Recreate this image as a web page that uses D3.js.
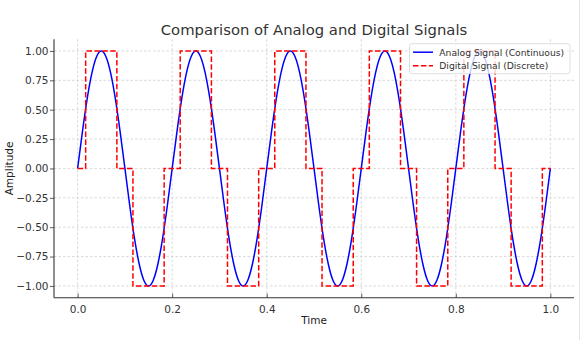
<!DOCTYPE html>
<html>
<head>
<meta charset="utf-8">
<script src="https://cdn.jsdelivr.net/npm/d3@7"></script>
<style>
  html, body { margin: 0; padding: 0; background: #fff; }
  svg { display: block; }
  text { font-family: "DejaVu Sans", sans-serif; }
</style>
</head>
<body>
<div id="chart"></div>
<script>
// ---- data ----
const title = "Comparison of Analog and Digital Signals";
const xLabel = "Time";
const yLabel = "Amplitude";
const seriesNames = ["Analog Signal (Continuous)", "Digital Signal (Discrete)"];
const xTicks = [0.0, 0.2, 0.4, 0.6, 0.8, 1.0];
const yTicks = [-1.0, -0.75, -0.5, -0.25, 0.0, 0.25, 0.5, 0.75, 1.0];

// analog samples, one every 0.01 time units from 0 to 1
const analogStep = 0.01;
const analogValues = [
  0, 0.309, 0.588, 0.809, 0.951, 1, 0.951, 0.809, 0.588, 0.309,
  0, -0.309, -0.588, -0.809, -0.951, -1, -0.951, -0.809, -0.588, -0.309,
  0, 0.309, 0.588, 0.809, 0.951, 1, 0.951, 0.809, 0.588, 0.309,
  0, -0.309, -0.588, -0.809, -0.951, -1, -0.951, -0.809, -0.588, -0.309,
  0, 0.309, 0.588, 0.809, 0.951, 1, 0.951, 0.809, 0.588, 0.309,
  0, -0.309, -0.588, -0.809, -0.951, -1, -0.951, -0.809, -0.588, -0.309,
  0, 0.309, 0.588, 0.809, 0.951, 1, 0.951, 0.809, 0.588, 0.309,
  0, -0.309, -0.588, -0.809, -0.951, -1, -0.951, -0.809, -0.588, -0.309,
  0, 0.309, 0.588, 0.809, 0.951, 1, 0.951, 0.809, 0.588, 0.309,
  0, -0.309, -0.588, -0.809, -0.951, -1, -0.951, -0.809, -0.588, -0.309,
  0
];

// digital signal: level changes (time where the new level starts, level)
const digitalTimes  = [0, 0.017, 0.083, 0.117, 0.183, 0.217, 0.283, 0.317, 0.383, 0.417, 0.483,
                       0.517, 0.583, 0.617, 0.683, 0.717, 0.783, 0.817, 0.883, 0.917, 0.983, 1.0];
const digitalLevels = [0, 1, 0, -1, 0, 1, 0, -1, 0, 1, 0,
                       -1, 0, 1, 0, -1, 0, 1, 0, -1, 0, 0];

// ---- drawing ----
const W = 582, H = 340;
const plot = { left: 54, right: 574, top: 39.2, bottom: 297.7 };

const svg = d3.select("#chart").append("svg")
  .attr("width", W).attr("height", H);

const x = d3.scaleLinear().domain([-0.05, 1.05]).range([plot.left, plot.right]);
const y = d3.scaleLinear().domain([-1.1, 1.1]).range([plot.bottom, plot.top]);

const textColor = "#333";

// grid
const grid = svg.append("g").attr("class", "grid");
grid.selectAll("line.vx").data(xTicks).join("line")
  .attr("x1", d => x(d)).attr("x2", d => x(d))
  .attr("y1", plot.top).attr("y2", plot.bottom)
  .attr("stroke", "#cfcfcf").attr("stroke-width", 0.8).attr("stroke-dasharray", "2.5,2");
grid.selectAll("line.hy").data(yTicks).join("line")
  .attr("x1", plot.left).attr("x2", plot.right)
  .attr("y1", d => y(d)).attr("y2", d => y(d))
  .attr("stroke", "#cfcfcf").attr("stroke-width", 0.8).attr("stroke-dasharray", "2.5,2");

// clip
svg.append("clipPath").attr("id", "clip").append("rect")
  .attr("x", plot.left).attr("y", plot.top)
  .attr("width", plot.right - plot.left).attr("height", plot.bottom - plot.top);

// analog line
const analogData = analogValues.map((v, i) => ({ t: i * analogStep, v }));
const analogLine = d3.line().x(d => x(d.t)).y(d => y(d.v)).curve(d3.curveNatural);
svg.append("path").datum(analogData)
  .attr("clip-path", "url(#clip)")
  .attr("d", analogLine)
  .attr("fill", "none").attr("stroke", "#0000ff").attr("stroke-width", 1.5);

// digital line
const digitalData = digitalTimes.map((t, i) => ({ t, v: digitalLevels[i] }));
const digitalLine = d3.line().x(d => x(d.t)).y(d => y(d.v)).curve(d3.curveStepAfter);
svg.append("path").datum(digitalData)
  .attr("clip-path", "url(#clip)")
  .attr("d", digitalLine)
  .attr("fill", "none").attr("stroke", "#ff0000").attr("stroke-width", 1.5)
  .attr("stroke-dasharray", "5.5,2.4");

// axes
const xAxis = d3.axisBottom(x).tickValues(xTicks).tickFormat(d3.format(".1f"))
  .tickSizeInner(-4).tickSizeOuter(0).tickPadding(8);
const gx = svg.append("g").attr("transform", `translate(0,${plot.bottom})`).call(xAxis);
gx.select(".domain").attr("stroke", textColor).attr("stroke-width", 1.1);
gx.selectAll(".tick line").attr("stroke", textColor).attr("stroke-width", 0.8);
gx.selectAll(".tick text").attr("fill", textColor)
  .style("font-family", "DejaVu Sans").style("font-size", "10.5px");

const yFmt = d => d3.format(".2f")(d).replace("-", "\u2212");
const yAxis = d3.axisLeft(y).tickValues(yTicks).tickFormat(yFmt)
  .tickSizeInner(4).tickSizeOuter(0).tickPadding(1.5);
const gy = svg.append("g").attr("transform", `translate(${plot.left},0)`).call(yAxis);
gy.select(".domain").attr("stroke", textColor).attr("stroke-width", 1.1);
gy.selectAll(".tick line").attr("stroke", textColor).attr("stroke-width", 0.8);
gy.selectAll(".tick text").attr("fill", textColor)
  .style("font-family", "DejaVu Sans").style("font-size", "10.5px");

// x axis domain line should span full plot width
gx.select(".domain").attr("d", `M${plot.left},0H${plot.right}`);
gy.select(".domain").attr("d", `M0,${plot.bottom}V${plot.top}`);

// title and labels
svg.append("text")
  .attr("x", (plot.left + plot.right) / 2).attr("y", 35)
  .attr("text-anchor", "middle").attr("fill", textColor)
  .style("font-size", "14.8px").text(title);

svg.append("text")
  .attr("x", (plot.left + plot.right) / 2).attr("y", 324.3)
  .attr("text-anchor", "middle").attr("fill", "#222")
  .style("font-size", "10.5px").text(xLabel);

svg.append("text")
  .attr("transform", `translate(12.5,${(plot.top + plot.bottom) / 2}) rotate(-90)`)
  .attr("text-anchor", "middle").attr("fill", "#222")
  .style("font-size", "10.5px").text(yLabel);

// legend
const lg = svg.append("g").attr("class", "legend");
lg.append("rect")
  .attr("x", 409.5).attr("y", 43.7).attr("width", 160.5).attr("height", 30)
  .attr("rx", 2.5).attr("fill", "rgba(255,255,255,0.8)")
  .attr("stroke", "#d6d6d6").attr("stroke-width", 0.8);
const legendItems = [
  { name: seriesNames[0], color: "#0000ff", dash: null, y: 52.2 },
  { name: seriesNames[1], color: "#ff0000", dash: "5.5,2.4", y: 65.8 }
];
legendItems.forEach(it => {
  lg.append("line").attr("x1", 413).attr("x2", 433).attr("y1", it.y).attr("y2", it.y)
    .attr("stroke", it.color).attr("stroke-width", 1.5)
    .attr("stroke-dasharray", it.dash);
  lg.append("text").attr("x", 439.3).attr("y", it.y + 3.3)
    .attr("fill", textColor).style("font-size", "9.2px").text(it.name);
});

// faint frame line at right edge
svg.append("line").attr("x1", 579.5).attr("x2", 579.5).attr("y1", 0).attr("y2", H)
  .attr("stroke", "#e4e4e4").attr("stroke-width", 1);
</script>
</body>
</html>
